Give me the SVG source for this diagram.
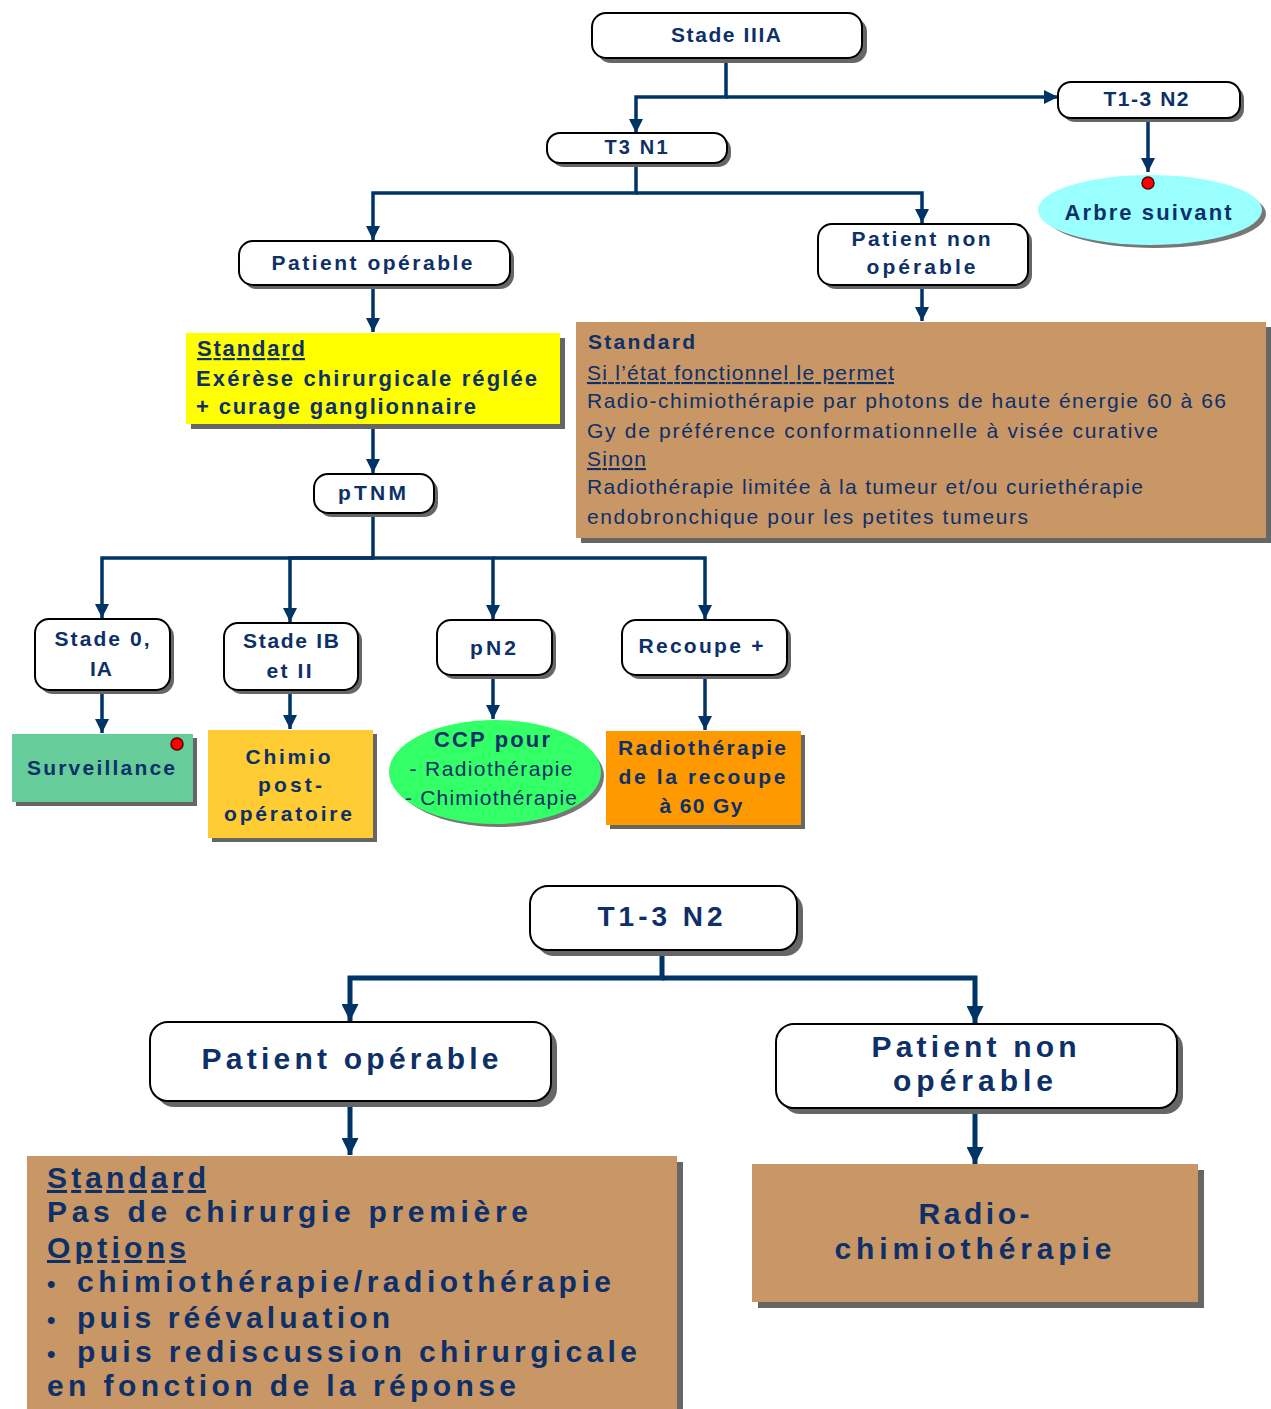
<svg xmlns="http://www.w3.org/2000/svg" width="1271" height="1409" viewBox="0 0 1271 1409">
<style>
text{font-family:"Liberation Sans",Arial,sans-serif;fill:#0d3068;}
.b{font-weight:bold;}
.box{fill:#fff;stroke:#000;stroke-width:2;}
.sh{fill:#666;}
.c{stroke:#003366;stroke-width:3.5;fill:none;}
.c2{stroke:#003366;stroke-width:5;fill:none;}
.u{text-decoration:underline;}
</style>
<defs>
<marker id="ah" viewBox="0 0 10 10" refX="10" refY="5" markerWidth="14" markerHeight="14" markerUnits="userSpaceOnUse" orient="auto"><path d="M0,0 L10,5 L0,10 Z" fill="#003366"/></marker>
<marker id="ah2" viewBox="0 0 10 10" refX="10" refY="5" markerWidth="17" markerHeight="17" markerUnits="userSpaceOnUse" orient="auto"><path d="M0,0 L10,5 L0,10 Z" fill="#003366"/></marker>
</defs>

<g id="connectors">
<path class="c" d="M726,58 V97 H636 V133" marker-end="url(#ah)"/>
<path class="c" d="M726,97 H1058" marker-end="url(#ah)"/>
<path class="c" d="M1148,118 V172" marker-end="url(#ah)"/>
<path class="c" d="M636,163 V193 H373 V240" marker-end="url(#ah)"/>
<path class="c" d="M636,193 H922 V223" marker-end="url(#ah)"/>
<path class="c" d="M373,285 V332" marker-end="url(#ah)"/>
<path class="c" d="M922,285 V321" marker-end="url(#ah)"/>
<path class="c" d="M373,424 V473" marker-end="url(#ah)"/>
<path class="c" d="M373,513 V558 H102 V618" marker-end="url(#ah)"/>
<path class="c" d="M373,558 H290 V622" marker-end="url(#ah)"/>
<path class="c" d="M373,558 H493 V619" marker-end="url(#ah)"/>
<path class="c" d="M493,558 H705 V619" marker-end="url(#ah)"/>
<path class="c" d="M102,690 V733" marker-end="url(#ah)"/>
<path class="c" d="M290,690 V729" marker-end="url(#ah)"/>
<path class="c" d="M493,675 V719" marker-end="url(#ah)"/>
<path class="c" d="M705,675 V730" marker-end="url(#ah)"/>
<path class="c2" d="M662,950 V978 H350 V1021" marker-end="url(#ah2)"/>
<path class="c2" d="M662,978 H975 V1023" marker-end="url(#ah2)"/>
<path class="c2" d="M350,1101 V1155" marker-end="url(#ah2)"/>
<path class="c2" d="M975,1108 V1164" marker-end="url(#ah2)"/>
</g>

<g id="stade3a">
<rect class="sh" x="597" y="18" width="270" height="45" rx="14"/>
<rect class="box" x="592" y="13" width="270" height="45" rx="14"/>
<text class="b" x="726" y="42" font-size="21" text-anchor="middle" textLength="110">Stade IIIA</text>
</g>

<g id="t1-3n2-top">
<rect class="sh" x="1062" y="86" width="182" height="36" rx="13"/>
<rect class="box" x="1058" y="82" width="182" height="36" rx="13"/>
<text class="b" x="1146" y="106" font-size="21" text-anchor="middle" textLength="85">T1-3 N2</text>
</g>

<g id="arbre">
<ellipse cx="1155" cy="214" rx="111" ry="34" fill="#777"/>
<ellipse cx="1150" cy="210" rx="112" ry="35" fill="#99ffff"/>
<circle cx="1148" cy="183" r="6" fill="#ff0000" stroke="#550000" stroke-width="1.5"/>
<text class="b" x="1148" y="220" font-size="22" text-anchor="middle" textLength="167">Arbre suivant</text>
</g>

<g id="t3n1">
<rect class="sh" x="551" y="137" width="180" height="30" rx="13"/>
<rect class="box" x="547" y="133" width="180" height="30" rx="13"/>
<text class="b" x="636" y="154" font-size="20" text-anchor="middle" textLength="63">T3 N1</text>
</g>

<g id="patient-operable-top">
<rect class="sh" x="243" y="245" width="271" height="44" rx="14"/>
<rect class="box" x="239" y="241" width="271" height="44" rx="14"/>
<text class="b" x="372" y="270" font-size="21" text-anchor="middle" textLength="201">Patient opérable</text>
</g>

<g id="patient-non-operable-top">
<rect class="sh" x="822" y="228" width="210" height="61" rx="14"/>
<rect class="box" x="818" y="224" width="210" height="61" rx="14"/>
<text class="b" x="921" y="246" font-size="21" text-anchor="middle" textLength="139">Patient non</text>
<text class="b" x="921" y="274" font-size="21" text-anchor="middle" textLength="109">opérable</text>
</g>

<g id="standard-yellow">
<rect class="sh" x="191" y="338" width="374" height="91"/>
<rect x="186" y="333" width="374" height="91" fill="#ffff00"/>
<text class="b u" x="197" y="356" font-size="22" textLength="108">Standard</text>
<text class="b" x="196" y="386" font-size="22" textLength="341">Exérèse chirurgicale réglée</text>
<text class="b" x="196" y="414" font-size="22" textLength="280">+ curage ganglionnaire</text>
</g>

<g id="standard-brown-top">
<rect class="sh" x="581" y="327" width="690" height="216"/>
<rect x="576" y="322" width="690" height="216" fill="#c99666"/>
<text class="b" x="588" y="349" font-size="21" textLength="107">Standard</text>
<text class="u" x="587" y="380" font-size="21" textLength="307">Si l’état fonctionnel le permet</text>
<text x="587" y="408" font-size="21" textLength="639">Radio-chimiothérapie par photons de haute énergie 60 à 66</text>
<text x="587" y="438" font-size="21" textLength="571">Gy de préférence conformationnelle à visée curative</text>
<text class="u" x="587" y="466" font-size="21" textLength="59">Sinon</text>
<text x="587" y="494" font-size="21" textLength="556">Radiothérapie limitée à la tumeur et/ou curiethérapie</text>
<text x="587" y="524" font-size="21" textLength="441">endobronchique pour les petites tumeurs</text>
</g>

<g id="ptnm">
<rect class="sh" x="318" y="478" width="120" height="39" rx="14"/>
<rect class="box" x="314" y="474" width="120" height="39" rx="14"/>
<text class="b" x="372" y="500" font-size="21" text-anchor="middle" textLength="68">pTNM</text>
</g>

<g id="stade0">
<rect class="sh" x="39" y="623" width="135" height="71" rx="14"/>
<rect class="box" x="35" y="619" width="135" height="71" rx="14"/>
<text class="b" x="102" y="646" font-size="21" text-anchor="middle" textLength="95">Stade 0,</text>
<text class="b" x="101" y="676" font-size="21" text-anchor="middle" textLength="22">IA</text>
</g>

<g id="stade-ib">
<rect class="sh" x="228" y="627" width="134" height="67" rx="14"/>
<rect class="box" x="224" y="623" width="134" height="67" rx="14"/>
<text class="b" x="291" y="648" font-size="21" text-anchor="middle" textLength="96">Stade IB</text>
<text class="b" x="289" y="678" font-size="21" text-anchor="middle" textLength="45">et II</text>
</g>

<g id="pn2">
<rect class="sh" x="441" y="624" width="115" height="55" rx="14"/>
<rect class="box" x="437" y="620" width="115" height="55" rx="14"/>
<text class="b" x="493" y="655" font-size="21" text-anchor="middle" textLength="46">pN2</text>
</g>

<g id="recoupe">
<rect class="sh" x="626" y="624" width="165" height="55" rx="14"/>
<rect class="box" x="622" y="620" width="165" height="55" rx="14"/>
<text class="b" x="701" y="653" font-size="21" text-anchor="middle" textLength="125">Recoupe +</text>
</g>

<g id="surveillance">
<rect class="sh" x="16" y="738" width="181" height="68"/>
<rect x="12" y="734" width="181" height="68" fill="#66cc99"/>
<circle cx="177" cy="744" r="6" fill="#ff0000" stroke="#550000" stroke-width="1.5"/>
<text class="b" x="101" y="775" font-size="21" text-anchor="middle" textLength="148">Surveillance</text>
</g>

<g id="chimio">
<rect class="sh" x="212" y="734" width="165" height="108"/>
<rect x="208" y="730" width="165" height="108" fill="#ffcc33"/>
<text class="b" x="288" y="764" font-size="21" text-anchor="middle" textLength="85">Chimio</text>
<text class="b" x="290" y="792" font-size="21" text-anchor="middle" textLength="64">post-</text>
<text class="b" x="288" y="821" font-size="21" text-anchor="middle" textLength="128">opératoire</text>
</g>

<g id="ccp">
<ellipse cx="499" cy="776" rx="105" ry="51" fill="#777"/>
<ellipse cx="495" cy="772" rx="106" ry="52" fill="#33ff66"/>
<text class="b" x="492" y="747" font-size="22" text-anchor="middle" textLength="116">CCP pour</text>
<text x="491" y="776" font-size="21" text-anchor="middle" textLength="163">- Radiothérapie</text>
<text x="491" y="805" font-size="21" text-anchor="middle" textLength="172">- Chimiothérapie</text>
</g>

<g id="radio-recoupe">
<rect class="sh" x="610" y="735" width="195" height="94"/>
<rect x="606" y="731" width="195" height="94" fill="#ff9900"/>
<text class="b" x="702" y="755" font-size="21" text-anchor="middle" textLength="168">Radiothérapie</text>
<text class="b" x="702" y="784" font-size="21" text-anchor="middle" textLength="167">de la recoupe</text>
<text class="b" x="701" y="813" font-size="21" text-anchor="middle" textLength="83">à 60 Gy</text>
</g>

<g id="t1-3n2-bottom">
<rect class="sh" x="536" y="892" width="267" height="64" rx="18"/>
<rect class="box" x="530" y="886" width="267" height="64" rx="18"/>
<text class="b" x="660" y="926" font-size="28" text-anchor="middle" textLength="125">T1-3 N2</text>
</g>

<g id="patient-operable-bottom">
<rect class="sh" x="156" y="1028" width="401" height="79" rx="18"/>
<rect class="box" x="150" y="1022" width="401" height="79" rx="18"/>
<text class="b" x="350" y="1069" font-size="30" text-anchor="middle" textLength="297">Patient opérable</text>
</g>

<g id="patient-non-operable-bottom">
<rect class="sh" x="782" y="1030" width="401" height="84" rx="18"/>
<rect class="box" x="776" y="1024" width="401" height="84" rx="18"/>
<text class="b" x="974" y="1057" font-size="30" text-anchor="middle" textLength="205">Patient non</text>
<text class="b" x="973" y="1091" font-size="30" text-anchor="middle" textLength="160">opérable</text>
</g>

<g id="standard-bottom">
<rect class="sh" x="33" y="1162" width="650" height="260"/>
<rect x="27" y="1156" width="650" height="260" fill="#c99666"/>
<text class="b u" x="47" y="1188" font-size="30" textLength="159">Standard</text>
<text class="b" x="47" y="1222" font-size="30" textLength="481">Pas de chirurgie première</text>
<text class="b u" x="47" y="1258" font-size="30" textLength="139">Options</text>
<text class="b" x="47" y="1292" font-size="24">•</text>
<text class="b" x="77" y="1292" font-size="30" textLength="534">chimiothérapie/radiothérapie</text>
<text class="b" x="47" y="1328" font-size="24">•</text>
<text class="b" x="77" y="1328" font-size="30" textLength="313">puis réévaluation</text>
<text class="b" x="47" y="1362" font-size="24">•</text>
<text class="b" x="77" y="1362" font-size="30" textLength="560">puis rediscussion chirurgicale</text>
<text class="b" x="47" y="1396" font-size="30" textLength="469">en fonction de la réponse</text>
</g>

<g id="radio-chimio-bottom">
<rect class="sh" x="758" y="1170" width="446" height="138"/>
<rect x="752" y="1164" width="446" height="138" fill="#c99666"/>
<text class="b" x="974" y="1224" font-size="30" text-anchor="middle" textLength="111">Radio-</text>
<text class="b" x="973" y="1259" font-size="30" text-anchor="middle" textLength="277">chimiothérapie</text>
</g>
</svg>
